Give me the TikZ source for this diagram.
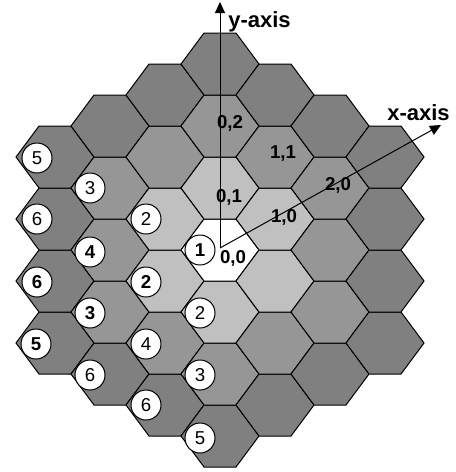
\documentclass[tikz,border=0pt]{standalone}
\usepackage{fontspec}
\setmainfont{Liberation Sans}
\usetikzlibrary{arrows.meta}
\definecolor{ring0}{RGB}{255,255,255}
\definecolor{ring1}{RGB}{192,192,192}
\definecolor{ring2}{RGB}{150,150,150}
\definecolor{ring3}{RGB}{128,128,128}
\begin{document}
\begin{tikzpicture}[x=0.75pt,y=-0.75pt,
  hexcell/.style={draw=black,line width=0.75pt,line join=miter},
  numcirc/.style={circle,draw=black,line width=0.75pt,fill=white,minimum size=22.5pt,inner sep=0pt,font=\fontsize{14}{16}\selectfont},
  numbold/.style={numcirc,font=\fontsize{14}{16}\selectfont\bfseries},
  coordlab/.style={anchor=base,inner sep=0pt,font=\fontsize{14}{16}\selectfont\bfseries},
  axislab/.style={anchor=base west,inner sep=0pt,font=\fontsize{16.5}{19}\selectfont\bfseries},
  axisline/.style={draw=black,line width=0.75pt,-{Triangle[length=8.25pt,width=7.5pt]}}]
\useasboundingbox (0,0) rectangle (455,472);
% hexagonal grid
\foreach \q in {-3,...,3}{
  \foreach \r in {-3,...,3}{
    \pgfmathtruncatemacro\d{max(abs(\q),abs(\r),abs(\q+\r))}
    \ifnum\d<4
      \pgfmathsetmacro\cx{220+55*\q}
      \pgfmathsetmacro\cy{250-31*\q-62*\r}
      \filldraw[hexcell,fill=ring\d] (\cx-39,\cy) -- (\cx-16,\cy-31) -- (\cx+16,\cy-31)
        -- (\cx+39,\cy) -- (\cx+16,\cy+31) -- (\cx-16,\cy+31) -- cycle;
    \fi
  }
}
% numbered circles
\node[numcirc] (c1)  at (37,158) {5};
\node[numcirc] (c2)  at (90,188) {3};
\node[numcirc] (c3)  at (37,219) {6};
\node[numcirc] (c4)  at (146,219) {2};
\node[numbold] (c5)  at (90,252) {4};
\node[numbold] (c6)  at (200,250) {1};
\node[numbold] (c7)  at (37,282) {6};
\node[numbold] (c8)  at (146,282) {2};
\node[numcirc] (c9)  at (200,313) {2};
\node[numbold] (c10) at (90,313) {3};
\node[numbold] (c11) at (36,344) {5};
\node[numcirc] (c12) at (146,344) {4};
\node[numcirc] (c13) at (90,375) {6};
\node[numcirc] (c14) at (200,375) {3};
\node[numcirc] (c15) at (146,405) {6};
\node[numcirc] (c16) at (200,438) {5};
% coordinate labels
\node[coordlab] (l00) at (233,263) {0,0};
\node[coordlab] (l01) at (229,202) {0,1};
\node[coordlab] (l02) at (230,128) {0,2};
\node[coordlab] (l11) at (283,158) {1,1};
\node[coordlab] (l20) at (338,190) {2,0};
\node[coordlab] (l10) at (284,222) {1,0};
% axes
\coordinate (O) at (220,248);
\coordinate (ytip) at (220,2);
\coordinate (xtip) at (441,125);
\draw[axisline] (O) -- (ytip);
\draw[axisline] (O) -- (xtip);
\node[axislab] (ylab) at (228,27) {y-axis};
\node[axislab] (xlab) at (387,120) {x-axis};
\end{tikzpicture}
\end{document}
